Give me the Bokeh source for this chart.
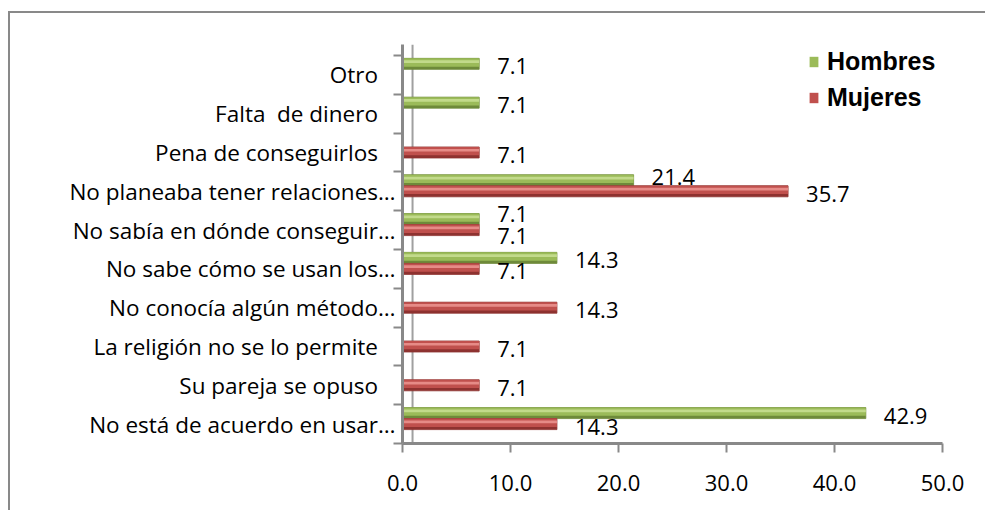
from bokeh.plotting import figure
from bokeh.models import (Range1d, LinearAxis, FixedTicker, ColumnDataSource, Legend,
                          LegendItem, Span, PrintfTickFormatter)
from bokeh.transform import dodge
from bokeh.core.properties import value
from bokeh.embed import file_html
from bokeh.resources import INLINE

# ---- data (top to bottom as shown) ----
categories = ["Otro", "Falta  de dinero", "Pena de conseguirlos",
              "No planeaba tener relaciones…", "No sabía en dónde conseguir…",
              "No sabe cómo se usan los…", "No conocía algún método…",
              "La religión no se lo permite", "Su pareja se opuso",
              "No está de acuerdo en usar…"]
hombres = [7.1, 7.1, 0, 21.4, 7.1, 14.3, 0, 0, 0, 42.9]
mujeres = [0, 0, 7.1, 35.7, 7.1, 7.1, 14.3, 7.1, 7.1, 14.3]
x_ticks = [0, 10, 20, 30, 40, 50]
series_names = ["Hombres", "Mujeres"]

GRAY = "#898989"
TXT_FONT = "Open Sans"
N = len(categories)
# category slot centres (first category at the top)
pos = [N - 1 - i + 0.5 for i in range(N)]
TOP_ROOM = 0.283  # a little room above the last slot (3D wall top / legend)

p = figure(width=985, height=510, output_backend="svg", toolbar_location=None,
           y_range=Range1d(0, N + TOP_ROOM), x_range=Range1d(0, 50), y_axis_location=None,
           min_border_left=402, min_border_right=43, min_border_top=44, min_border_bottom=67,
           styles={"box-shadow": "inset 8px 11px 0px 0px white, inset 10px 13px 0px 0px #898989",
                   "background-color": "white"})
p.outline_line_color = None
p.xgrid.visible = False
p.ygrid.visible = False
p.background_fill_color = "white"
p.border_fill_color = None

# x axis
xa = p.xaxis[0]
xa.ticker = FixedTicker(ticks=x_ticks)
xa.formatter = PrintfTickFormatter(format="%.1f")
xa.axis_line_color = GRAY
xa.axis_line_width = 3
xa.major_tick_line_color = GRAY
xa.major_tick_line_width = 2
xa.major_tick_out = 9
xa.major_tick_in = 0
xa.minor_tick_line_color = None
xa.major_label_text_font = TXT_FONT
xa.major_label_text_font_size = "22px"
xa.major_label_text_color = "black"
xa.major_label_standoff = 22

# y axis: boundary ticks (inner) + category labels (outer)
bounds = list(range(N + 1))
tick_axis = LinearAxis(ticker=FixedTicker(ticks=bounds),
                       major_label_overrides={b: "" for b in bounds},
                       major_label_standoff=0,
                       major_tick_out=9, major_tick_in=0,
                       axis_line_color=GRAY, axis_line_width=3,
                       major_tick_line_color=GRAY, major_tick_line_width=2,
                       minor_tick_line_color=None)
p.add_layout(tick_axis, "left")

overrides = {pos[i]: (c if c.endswith("…") else c.replace("  ", "\u00a0 ") + "\u00a0\u00a0\u00a0")
             for i, c in enumerate(categories)}
label_axis = LinearAxis(ticker=FixedTicker(ticks=pos),
                        axis_line_color=None, major_tick_line_color=None,
                        minor_tick_line_color=None,
                        major_tick_out=0, major_tick_in=0, major_label_standoff=-2,
                        major_label_text_font=TXT_FONT,
                        major_label_text_font_size="22.5px",
                        major_label_text_color="black",
                        major_label_overrides=overrides)
p.add_layout(label_axis, "left")

# 3D back wall line
p.add_layout(Span(location=0.93, dimension="height", line_color="#a0a0a0",
                  line_width=2, level="underlay"))

BAR_H = 0.284
series = [
    (hombres, BAR_H, "#6E8A3A", "#9BBB59", "#C6DE90"),
    (mujeres, 0.0, "#8E3230", "#C0504D", "#EA918E"),
]

legend_items = []
label_sources = []
for idx, (vals, d, dark, mid, light) in enumerate(series):
    ys, vs, lbls, yoffs = [], [], [], []
    for i, c in enumerate(categories):
        v = vals[i]
        if v <= 0:
            continue
        h, m = hombres[i], mujeres[i]
        yo = 2.5
        if h > 0 and m > 0:
            if h == m:
                yo = -5.5 if idx == 0 else 5.5
            elif m > h and idx == 0:
                yo = -3
        ys.append(pos[i])
        vs.append(v)
        lbls.append(f"{v:.1f}")
        yoffs.append(yo)
    src = ColumnDataSource(dict(y=ys, v=vs, lbl=lbls, yoff=yoffs))
    p.hbar(y=dodge("y", d), left=0, right="v", height=BAR_H,
           fill_color=dark, line_color=dark, line_width=0.8, source=src)
    r_mid = p.hbar(y=dodge("y", d + 0.035), left=0, right="v",
                   height=0.214, fill_color=mid, line_color=None, source=src)
    p.hbar(y=dodge("y", d + 0.058), left=0, right="v",
           height=0.07, fill_color=light, line_color=None, fill_alpha=0.9, source=src)
    label_sources.append((src, d))
    legend_items.append(LegendItem(label=series_names[idx], renderers=[r_mid]))

# value labels drawn after all bars
for src, d in label_sources:
    p.text(x="v", y=dodge("y", d), text="lbl", source=src,
           x_offset=18, y_offset="yoff", text_font=value(TXT_FONT),
           text_font_size="22px", text_baseline="middle", text_color="black")

legend = Legend(items=legend_items, location=(406, 331), padding=0, margin=0,
                border_line_color=None, background_fill_alpha=0,
                label_text_font="Liberation Sans", label_text_font_style="bold",
                label_text_font_size="25px", label_text_color="black",
                glyph_width=11, glyph_height=13, label_standoff=8, spacing=7)
p.add_layout(legend, "center")

open("out.html", "w").write(file_html(p, INLINE))
